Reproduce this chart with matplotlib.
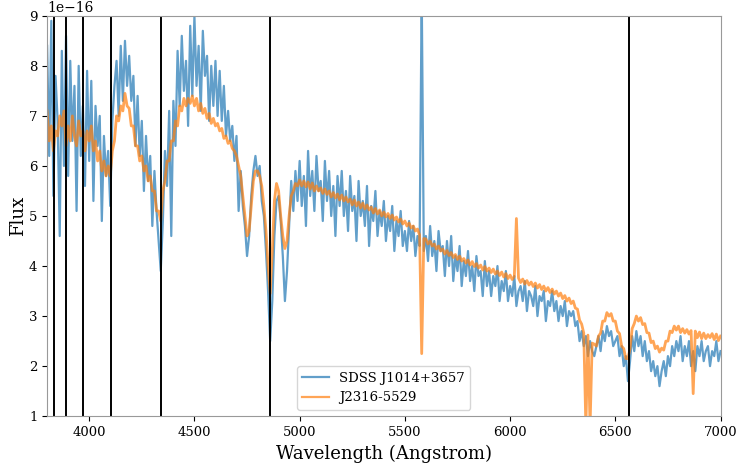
import numpy as np
import matplotlib
matplotlib.use("Agg")
import matplotlib.pyplot as plt

plt.rcParams['font.family'] = ['DejaVu Serif']

# wavelength grid, 10 Angstrom steps from 3800 to 7000
wave_start = 3800
wave_step = 10

# SDSS J1014+3657 flux (units of 1e-16), one row per 100 A
sdss_flux = [
    8.4, 6.2, 8.9, 5.4, 7.8, 6.9, 4.6, 8.3, 6.0, 8.6,
    5.8, 8.1, 6.5, 7.6, 5.1, 8.0, 6.2, 7.2, 5.6, 7.9,
    6.1, 7.7, 5.3, 7.2, 6.4, 7.0, 4.9, 6.6, 5.8, 6.3,
    5.2, 6.9, 7.6, 8.1, 7.0, 8.4, 7.3, 8.5, 7.6, 8.2,
    7.3, 7.8, 6.4, 7.4, 6.2, 6.9, 5.5, 6.6, 5.7, 6.2,
    4.8, 5.9, 5.1, 4.5, 3.9, 4.9, 6.3, 5.6, 7.1, 4.6,
    7.3, 6.4, 8.3, 7.2, 8.6, 7.5, 8.1, 6.8, 8.8, 7.4,
    9.0, 7.6, 8.4, 7.1, 8.7, 7.8, 8.2, 6.9, 8.0, 7.2,
    8.1, 7.0, 7.9, 6.9, 7.6, 6.6, 7.1, 6.5, 6.8, 6.1,
    6.6, 5.1, 5.9, 5.2, 4.8, 4.2, 4.6, 5.4, 5.9, 6.2,
    5.8, 6.0, 5.3, 5.0, 4.3, 3.5, 2.5, 3.3, 4.6, 5.3,
    5.4, 4.9, 4.2, 3.3, 3.9, 4.8, 5.7, 5.1, 5.9, 5.3,
    6.1, 5.2, 5.8, 4.8, 6.3, 5.4, 5.9, 5.1, 6.2, 5.5,
    5.7, 4.9, 6.1, 5.3, 5.9, 5.0, 5.6, 4.6, 5.8, 5.2,
    5.9, 5.0, 5.5, 4.7, 5.8, 5.1, 5.4, 4.5, 5.7, 5.0,
    5.3, 4.8, 5.6, 4.4, 5.2, 4.9, 5.5, 4.6, 5.1, 4.8,
    5.3, 4.5, 5.0, 4.7, 5.2, 4.3, 4.9, 4.6, 5.1, 4.4,
    4.7, 4.3, 4.9, 4.5, 4.8, 4.2, 4.6, 4.4, 9.5, 4.3,
    4.6, 4.1, 4.8, 4.2, 4.5, 3.9, 4.7, 4.3, 4.4, 3.8,
    4.5, 4.0, 4.6, 3.7, 4.2, 3.9, 4.4, 3.6, 4.1, 3.8,
    4.3, 3.7, 4.0, 3.5, 4.2, 3.8, 3.9, 3.4, 4.1, 3.6,
    3.9, 3.4, 3.8, 3.6, 4.0, 3.3, 3.7, 3.5, 3.9, 3.3,
    3.6, 3.4, 3.8, 3.2, 3.5, 3.6, 3.3, 3.7, 3.1, 3.5,
    3.4, 3.2, 3.6, 3.0, 3.4, 3.3, 3.5, 2.9, 3.3, 3.2,
    3.5, 3.1, 3.3, 2.9, 3.2, 3.0, 3.3, 2.8, 3.1, 3.0,
    3.1, 2.8, 2.9, 2.5, 2.7, 2.4, 2.6, 2.2, 2.5, 2.3,
    2.2, 2.4, 2.6, 2.3, 2.7, 2.5, 2.8, 2.6, 2.7, 2.4,
    2.5, 2.6, 2.2, 2.4, 2.0, 2.2, 1.7, 2.1, 2.6, 2.3,
    2.7, 2.4, 2.6, 2.2, 2.5, 2.1, 2.3, 1.9, 2.1, 1.8,
    2.0, 1.6, 1.9, 2.1, 1.8, 2.2, 2.0, 2.4, 2.2, 2.5,
    2.3, 2.6, 2.1, 2.4, 2.2, 2.5, 2.0, 2.3, 1.9, 2.4,
    2.2, 2.5, 2.1, 2.3, 2.4, 2.0, 2.3, 2.2, 2.5, 2.1,
    2.3,
]

# J2316-5529 flux (units of 1e-16)
j2316_flux = [
    7.1, 6.5, 6.8, 6.3, 6.7, 6.6, 7.0, 6.8, 7.1, 6.4,
    6.8, 6.5, 7.0, 6.6, 6.4, 6.9, 6.6, 6.7, 6.3, 6.7,
    6.5, 6.8, 6.3, 6.5, 6.1, 6.3, 5.9, 6.1, 5.8, 6.0,
    5.8, 6.3, 6.5, 7.0, 6.9, 7.2, 7.1, 7.45, 7.2, 7.15,
    6.8, 6.8, 6.4, 6.4, 6.1, 6.2, 5.9, 6.0, 5.7, 5.8,
    5.5, 5.5, 5.1, 5.1, 4.9, 5.5, 5.7, 6.1, 6.1, 6.5,
    6.5, 6.9, 6.8, 7.2, 7.1, 7.35, 7.2, 7.35, 7.25, 7.4,
    7.2, 7.35, 7.1, 7.25, 7.05, 7.15, 6.95, 7.05, 6.85, 6.95,
    6.8, 6.85, 6.7, 6.75, 6.55, 6.6, 6.45, 6.5, 6.35, 6.3,
    6.2, 6.0, 5.8, 5.4, 5.0, 4.6, 4.7, 5.2, 5.7, 5.9,
    5.9, 5.8, 5.6, 5.2, 4.7, 4.0, 3.45, 4.3, 5.3, 5.65,
    5.5, 5.0, 4.6, 4.35, 4.5, 5.0, 5.4, 5.5, 5.65, 5.6,
    5.72, 5.6, 5.7, 5.58, 5.68, 5.54, 5.66, 5.5, 5.6, 5.5,
    5.56, 5.45, 5.54, 5.43, 5.5, 5.38, 5.47, 5.36, 5.44, 5.32,
    5.42, 5.3, 5.38, 5.28, 5.34, 5.22, 5.32, 5.2, 5.28, 5.16,
    5.26, 5.14, 5.22, 5.12, 5.18, 5.06, 5.15, 5.04, 5.12, 5.0,
    5.08, 4.98, 5.05, 4.95, 5.02, 4.92, 4.98, 4.88, 4.94, 4.84,
    4.9, 4.8, 4.86, 4.76, 4.8, 4.7, 4.74, 4.62, 2.25, 4.55,
    4.54, 4.44, 4.5, 4.4, 4.44, 4.34, 4.4, 4.3, 4.34, 4.24,
    4.31, 4.21, 4.27, 4.17, 4.23, 4.13, 4.2, 4.1, 4.15, 4.06,
    4.12, 4.02, 4.09, 3.99, 4.05, 3.96, 4.02, 3.92, 3.99, 3.9,
    3.96, 3.87, 3.94, 3.84, 3.9, 3.81, 3.88, 3.78, 3.85, 3.75,
    3.82, 3.73, 3.79, 4.95, 3.76, 3.67, 3.74, 3.64, 3.71, 3.62,
    3.68, 3.59, 3.66, 3.56, 3.63, 3.53, 3.6, 3.5, 3.57, 3.47,
    3.54, 3.44, 3.5, 3.4, 3.46, 3.35, 3.41, 3.3, 3.36, 3.25,
    3.3, 3.16, 3.14, 2.92, 2.84, 2.66, 0.8, 2.62, 0.8, 2.46,
    2.44, 2.4, 2.6, 2.66, 2.9, 2.9, 3.07, 3.0, 3.05, 2.9,
    2.9, 2.7, 2.65, 2.4, 2.35, 2.15, 2.15, 2.35, 2.75, 2.85,
    3.0, 2.9, 2.97, 2.83, 2.85, 2.67, 2.66, 2.47, 2.5, 2.35,
    2.4, 2.28, 2.36, 2.32, 2.5, 2.5, 2.7, 2.67, 2.8, 2.72,
    2.8, 2.67, 2.75, 2.66, 2.73, 2.64, 2.71, 1.45, 2.7, 2.57,
    2.68, 2.55, 2.66, 2.55, 2.63, 2.57, 2.65, 2.53, 2.64, 2.51,
    2.6,
]

# Balmer line positions (Angstrom)
balmer_lines = [3835, 3889, 3970, 4102, 4340, 4861, 6563]

sdss_flux = np.array(sdss_flux) * 1e-16
j2316_flux = np.array(j2316_flux) * 1e-16
wave = wave_start + wave_step * np.arange(len(sdss_flux))

fig = plt.figure(figsize=(7.36, 4.65), dpi=100)
ax = fig.add_axes([0.064, 0.105, 0.915, 0.861])

ax.plot(wave, sdss_flux, color='tab:blue', alpha=0.7, lw=1.6, label='SDSS J1014+3657')
ax.plot(wave, j2316_flux, color='tab:orange', alpha=0.7, lw=2.0, label='J2316-5529')

for line in balmer_lines:
    ax.axvline(line, color='black', lw=1.4)

ax.set_xlim(3800, 7000)
ax.set_ylim(1e-16, 9e-16)
ax.set_xlabel('Wavelength (Angstrom)', fontsize=13)
ax.set_ylabel('Flux', fontsize=13, labelpad=1)
for s in ax.spines.values():
    s.set_color('#999999')
ax.tick_params(labelsize=9.5)
leg = ax.legend(loc='lower center', fontsize=9.5)
for h in leg.get_lines():
    h.set_linewidth(1.6)

fig.savefig('out.png', dpi=100)
